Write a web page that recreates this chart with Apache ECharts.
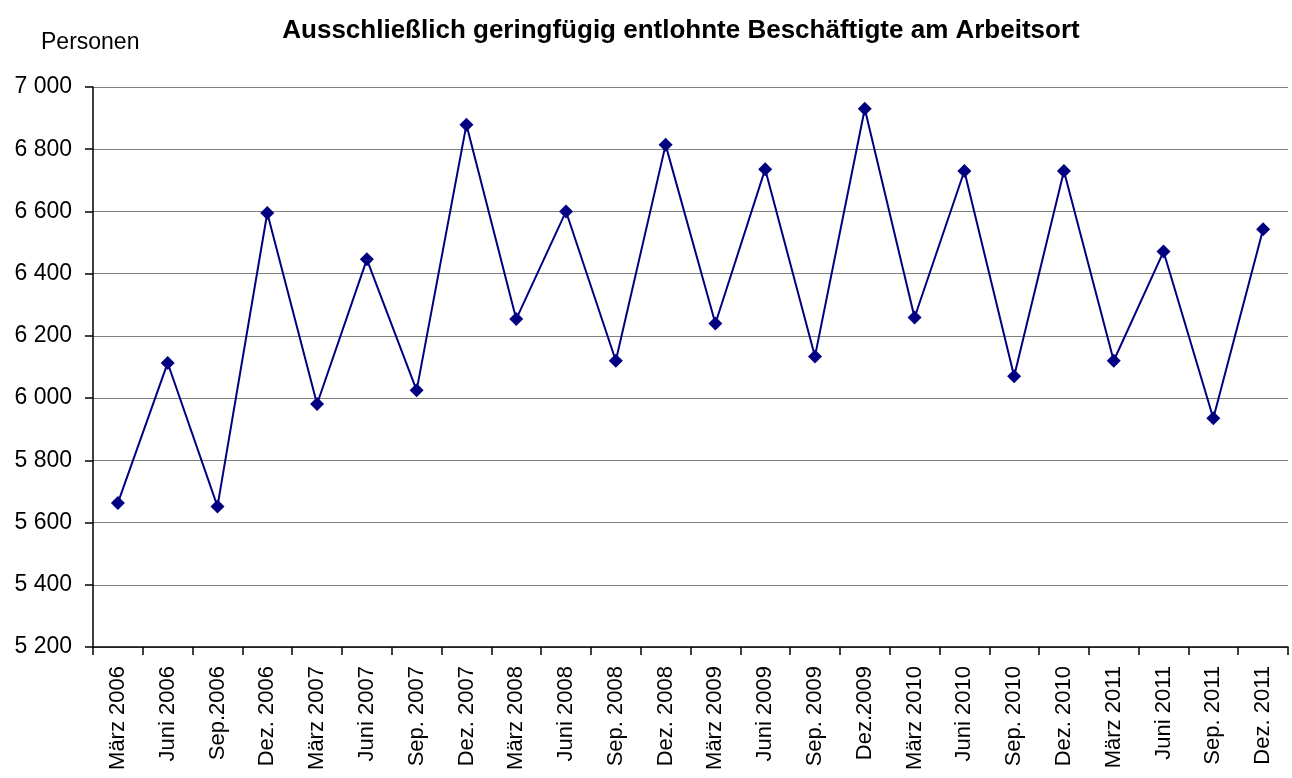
<!DOCTYPE html>
<html><head><meta charset="utf-8">
<script src="https://cdn.jsdelivr.net/npm/echarts@6/dist/echarts.min.js"></script>
<style>html,body{margin:0;padding:0;background:#fff}#c{width:1292px;height:778px}</style>
</head><body><div id="c"></div>
<script>
var categories = ['März 2006','Juni 2006','Sep.2006','Dez. 2006','März 2007','Juni 2007','Sep. 2007','Dez. 2007','März 2008','Juni 2008','Sep. 2008','Dez. 2008','März 2009','Juni 2009','Sep. 2009','Dez.2009','März 2010','Juni 2010','Sep. 2010','Dez. 2010','März 2011','Juni 2011','Sep. 2011','Dez. 2011'];
var values = [5663,6113,5652,6595,5981,6446,6025,6879,6254,6600,6120,6814,6240,6736,6134,6930,6259,6730,6070,6730,6120,6471,5935,6543];
var yMin = 5200, yMax = 7000, yStep = 200;

var chart = echarts.init(document.getElementById('c'));
chart.setOption({
  animation: false,
  title: {
    text: 'Ausschließlich geringfügig entlohnte Beschäftigte am Arbeitsort',
    left: 676, top: 13, textAlign: 'center',
    textStyle: {fontFamily: 'Liberation Sans', fontWeight: 'bold', fontSize: 26, color: '#000'}
  },
  graphic: [{type: 'text', left: 41, top: 31, style: {text: 'Personen', font: '23px "Liberation Sans"', fill: '#000'}}],
  grid: {left: 93, right: 4, top: 87, bottom: 131, containLabel: false},
  xAxis: {
    type: 'category', data: categories, boundaryGap: true,
    axisLine: {lineStyle: {color: '#000', width: 1.5}},
    axisTick: {show: true, length: 8, lineStyle: {color: '#000', width: 1.5}},
    axisLabel: {rotate: 90, interval: 0, margin: 19, fontFamily: 'Liberation Sans', fontSize: 22, color: '#000'}
  },
  yAxis: {
    type: 'value', min: yMin, max: yMax, interval: yStep,
    axisLine: {show: true, lineStyle: {color: '#000', width: 1.5}},
    axisTick: {show: true, length: 8, lineStyle: {color: '#000', width: 1.5}},
    splitLine: {show: true, lineStyle: {color: '#808080', width: 1.2}},
    axisLabel: {margin: 21, fontFamily: 'Liberation Sans', fontSize: 23, color: '#000',
      formatter: function(v){ var s = String(v); return s.length > 3 ? s.slice(0, s.length-3) + ' ' + s.slice(-3) : s; }}
  },
  series: [{
    type: 'line', data: values,
    lineStyle: {color: '#000080', width: 2},
    itemStyle: {color: '#000080'},
    symbol: 'diamond', symbolSize: 14, showSymbol: true
  }]
});
</script></body></html>
